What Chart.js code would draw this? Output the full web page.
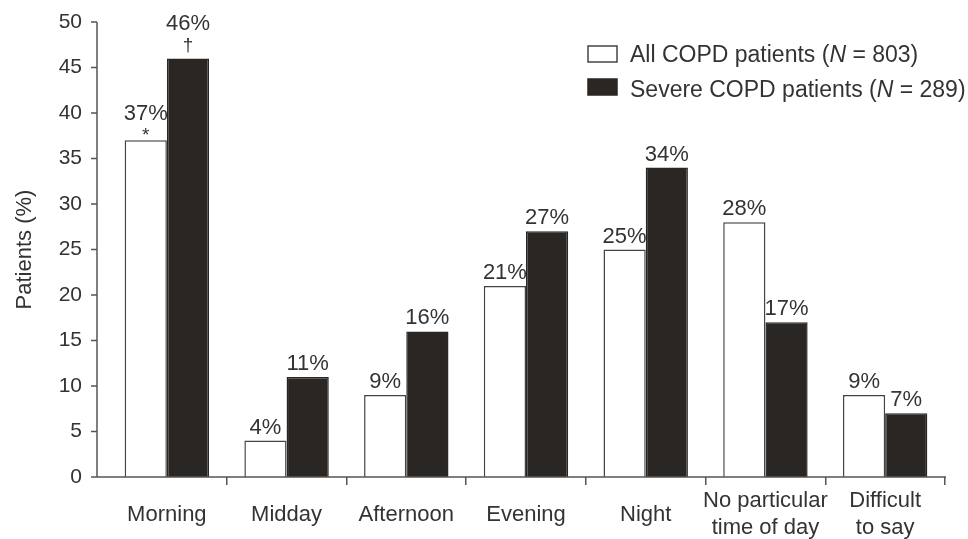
<!DOCTYPE html>
<html><head><meta charset="utf-8">
<script src="https://cdn.jsdelivr.net/npm/chart.js@4.4.1/dist/chart.umd.min.js"></script>
<style>
html,body{margin:0;padding:0;background:#fff;overflow:hidden;width:968px;height:539px}
#wrap{position:relative;width:968px;height:570px}
</style></head>
<body><div id="wrap"><canvas id="c"></canvas></div>
<script>
const categories = [['Morning'], ['Midday'], ['Afternoon'], ['Evening'], ['Night'], ['No particular', 'time of day'], ['Difficult', 'to say']];
const allPatients = [37, 4, 9, 21, 25, 28, 9];
const severePatients = [46, 11, 16, 27, 34, 17, 7];
const allMarks = ['*', '', '', '', '', '', ''];
const severeMarks = ['\u2020', '', '', '', '', '', ''];
const yTicks = [0, 5, 10, 15, 20, 25, 30, 35, 40, 45, 50];
const seriesNames = ['All COPD patients', 'Severe COPD patients'];
const seriesN = ['803', '289'];

const FONT = '"Liberation Sans", Arial, Helvetica, sans-serif';
const TXT = '#333';
const AX = '#555';
const DARK = '#2a2623';
const H = 570;

const overlay = {
  id: 'overlay',
  afterDraw(chart) {
    const ctx = chart.ctx;
    const ca = chart.chartArea;
    const ys = chart.scales.y;
    const x0 = ca.left - 10;
    ctx.save();
    ctx.strokeStyle = AX;
    ctx.lineWidth = 1.5;
    ctx.beginPath();
    ctx.moveTo(x0, ys.getPixelForValue(yTicks[yTicks.length - 1]));
    ctx.lineTo(x0, ca.bottom);
    yTicks.forEach(v => {
      const p = ys.getPixelForValue(v);
      ctx.moveTo(x0 - 6, p);
      ctx.lineTo(x0, p);
    });
    ctx.moveTo(x0, ca.bottom);
    ctx.lineTo(ca.right + 1, ca.bottom);
    ctx.stroke();

    const marks = [allMarks, severeMarks];
    ctx.fillStyle = TXT;
    ctx.textAlign = 'center';
    chart.data.datasets.forEach((ds, di) => {
      const meta = chart.getDatasetMeta(di);
      meta.data.forEach((bar, i) => {
        const top = bar.y;
        const m = marks[di][i];
        let base = top - 7;
        if (m) {
          ctx.font = '19px ' + FONT;
          ctx.textBaseline = 'alphabetic';
          const mm = ctx.measureText(m);
          const mb = top - 5;
          const mBase = mb - mm.actualBoundingBoxDescent;
          ctx.fillText(m, bar.x, mBase);
          base = mBase - mm.actualBoundingBoxAscent - 8;
        }
        ctx.font = '22px ' + FONT;
        ctx.textBaseline = 'alphabetic';
        ctx.fillText(ds.data[i] + '%', bar.x, base);
      });
    });

    const lx = 588, bw = 29, bh = 16;
    const rows = [{boxTop: 46, base: 62}, {boxTop: 79, base: 97}];
    chart.data.datasets.forEach((ds, di) => {
      const r = rows[di];
      ctx.fillStyle = ds.backgroundColor;
      ctx.fillRect(lx, r.boxTop, bw, bh);
      ctx.strokeStyle = ds.borderColor;
      ctx.lineWidth = 1.5;
      ctx.strokeRect(lx, r.boxTop, bw, bh);
      ctx.fillStyle = TXT;
      ctx.textAlign = 'left';
      ctx.textBaseline = 'alphabetic';
      let tx = 630;
      const normal = '23px ' + FONT, ital = 'italic 23px ' + FONT;
      const parts = [[seriesNames[di] + ' (', normal], ['N', ital], [' = ' + seriesN[di] + ')', normal]];
      parts.forEach(([t, f]) => {
        ctx.font = f;
        ctx.fillText(t, tx, r.base);
        tx += ctx.measureText(t).width;
      });
    });
    ctx.restore();
  }
};

new Chart(document.getElementById('c'), {
  type: 'bar',
  data: {
    labels: categories,
    datasets: [
      { label: seriesNames[0], data: allPatients, backgroundColor: '#ffffff', borderColor: '#444', borderWidth: 1.5,
        categoryPercentage: 0.705, barPercentage: 1.0 },
      { label: seriesNames[1], data: severePatients, backgroundColor: DARK, borderColor: DARK, borderWidth: 1.5,
        categoryPercentage: 0.705, barPercentage: 1.0 }
    ]
  },
  options: {
    responsive: true,
    maintainAspectRatio: false,
    animation: false,
    devicePixelRatio: 1,
    layout: { padding: { top: 22, right: 23, left: 0, bottom: 0 } },
    plugins: { legend: { display: false }, tooltip: { enabled: false } },
    scales: {
      x: {
        grid: {
          offset: true, drawOnChartArea: false, drawTicks: true, tickLength: 8, lineWidth: 1.5,
          color: c => (c.index === 0 ? 'rgba(0,0,0,0)' : AX)
        },
        border: { display: false },
        ticks: { color: TXT, font: { family: FONT, size: 22, lineHeight: 1.23 }, padding: 16, crossAlign: 'center', maxRotation: 0, autoSkip: false },
        afterFit: s => { s.height = H - 477; }
      },
      y: {
        min: 0, max: 50,
        grid: { display: false },
        border: { display: false },
        ticks: { stepSize: 5, color: TXT, font: { family: FONT, size: 21 }, padding: 17 },
        title: { display: true, text: 'Patients (%)', color: TXT, font: { family: FONT, size: 22 }, padding: { top: 12, bottom: 0 } },
        afterFit: s => { s.width = 107; s.paddingTop = 12; s.paddingBottom = 12; }
      }
    }
  },
  plugins: [overlay]
});
</script>
</body></html>
